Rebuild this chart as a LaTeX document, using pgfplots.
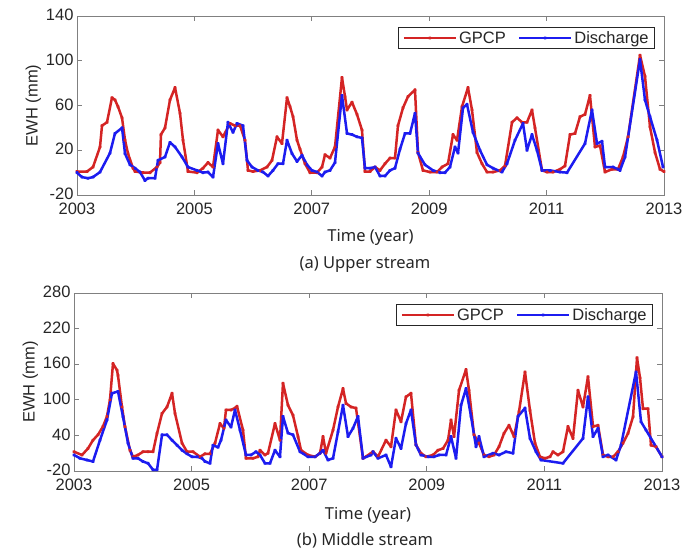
\documentclass[border=0pt]{standalone}
\usepackage{fontspec}
\setmainfont{Liberation Sans}
\newfontfamily\capfont{Noto Sans}
\usepackage{pgfplots}
\pgfplotsset{compat=1.18}
\definecolor{gpcpred}{RGB}{212,36,36}
\definecolor{disblue}{RGB}{28,28,240}
\definecolor{axgray}{RGB}{128,128,128}
\definecolor{txtgray}{RGB}{38,38,38}

\pgfplotsset{
  ewh/.style={
    scale only axis,
    xmin=2003, xmax=2013,
    xtick={2003,2005,2007,2009,2011,2013},
    xticklabels={2003,2005,2007,2009,2011,2013},
    tick align=inside,
    major tick length=5pt,
    axis line style={axgray, line width=0.9pt},
    tick style={axgray, line width=0.9pt},
    every tick label/.append style={font=\fontsize{16.5}{17}\selectfont, text=txtgray},
    xticklabel style={yshift=-8pt, inner ysep=0pt},
    yticklabel style={inner ysep=0pt, yshift=1pt},
    ylabel={EWH (mm)},
    ylabel style={font=\fontsize{16.5}{17}\selectfont, text=txtgray, yshift=-2pt},
    xlabel={Time (year)},
    xlabel style={font=\capfont\fontsize{16.5}{17}\selectfont, text=txtgray,
      at={(axis description cs:0.5,0)}, anchor=center, yshift=-42pt},
    legend columns=2,
    legend cell align=left,
    legend style={at={(axis description cs:1,1)}, anchor=north east,
      xshift=-9pt, yshift=-11pt, draw=txtgray, line width=0.7pt,
      font=\fontsize{16.5}{17}\selectfont, text=txtgray,
      inner xsep=4pt, inner ysep=2pt,
      /tikz/every even column/.append style={column sep=10pt}},
    legend image code/.code={
      \draw[mark repeat=2, mark phase=2, #1]
        plot coordinates {(0pt,0pt) (26pt,0pt) (52pt,0pt)};},
    every axis plot/.append style={line width=2.5pt, line join=round, mark=*, mark size=0.5pt},
  }
}

\begin{document}
\begin{tikzpicture}
\useasboundingbox (0,0) rectangle (687pt,558pt);

% (a) upper stream
\begin{axis}[ewh,
  at={(77pt,363pt)}, anchor=south west,
  width=587pt, height=179pt,
  ymin=-20, ymax=140,
  ytick={-20,20,60,100,140},
  yticklabels={-20,20,60,100,140},
]
\addplot[gpcpred, mark options={gpcpred}] coordinates {
(2003.000,1) (2003.170,1) (2003.273,5) (2003.392,23) (2003.426,42) (2003.511,45)
(2003.596,67) (2003.647,65) (2003.698,59) (2003.767,49) (2003.818,29) (2003.869,17)
(2003.954,4) (2003.990,1) (2004.124,0) (2004.244,0) (2004.363,5) (2004.414,9)
(2004.430,34) (2004.499,40) (2004.584,65) (2004.670,76) (2004.755,53) (2004.806,29)
(2004.891,1) (2005.044,0) (2005.146,4) (2005.232,9) (2005.317,5) (2005.402,38)
(2005.487,32) (2005.606,44) (2005.692,42) (2005.777,42) (2005.862,29) (2005.913,2)
(2005.998,1) (2006.118,2) (2006.237,5) (2006.322,11) (2006.407,32) (2006.492,26)
(2006.578,67) (2006.629,59) (2006.680,50) (2006.748,29) (2006.799,21) (2006.884,8)
(2006.969,0) (2007.089,0) (2007.174,5) (2007.225,16) (2007.310,13) (2007.395,23)
(2007.514,85) (2007.566,68) (2007.600,56) (2007.685,63) (2007.770,52) (2007.855,38)
(2007.906,1) (2007.991,1) (2008.077,5) (2008.162,2) (2008.247,8) (2008.332,13)
(2008.417,13) (2008.468,42) (2008.554,58) (2008.639,68) (2008.758,74) (2008.809,18)
(2008.894,2) (2009.014,0.5) (2009.133,0.5) (2009.218,5) (2009.320,8) (2009.405,34)
(2009.474,29) (2009.559,59) (2009.661,76) (2009.729,56) (2009.814,18) (2009.899,8)
(2009.985,0.5) (2010.087,0.5) (2010.206,2) (2010.291,6) (2010.411,45) (2010.496,49)
(2010.581,45) (2010.666,45) (2010.751,56) (2010.802,40) (2010.922,2) (2011.007,0.5)
(2011.109,0.5) (2011.228,3) (2011.313,6) (2011.399,34) (2011.484,35) (2011.569,50)
(2011.654,52) (2011.739,69) (2011.824,23) (2011.910,24) (2011.995,0.5) (2012.114,3)
(2012.216,3) (2012.302,14) (2012.387,32) (2012.591,105) (2012.676,86) (2012.761,41)
(2012.847,18) (2012.932,3) (2013.000,1)
};
\addplot[disblue, mark options={disblue}] coordinates {
(2003.000,0) (2003.085,-4) (2003.187,-5) (2003.273,-4) (2003.392,0.5) (2003.562,17.5)
(2003.647,35) (2003.767,40) (2003.818,17) (2003.903,7) (2003.988,4) (2004.073,0.5)
(2004.158,-7) (2004.210,-5) (2004.329,-5) (2004.380,11) (2004.499,14) (2004.584,27)
(2004.670,23) (2004.789,14) (2004.891,5) (2005.044,2) (2005.146,0) (2005.232,0.5)
(2005.317,-4) (2005.402,26) (2005.487,8) (2005.572,45) (2005.658,36) (2005.726,44)
(2005.828,42) (2005.896,11) (2005.981,5) (2006.083,2) (2006.169,0.5) (2006.254,-3)
(2006.339,2) (2006.424,8) (2006.509,8) (2006.578,29) (2006.663,17) (2006.748,10)
(2006.833,15.5) (2006.918,7) (2007.003,2) (2007.089,0.5) (2007.174,-3) (2007.225,0.5)
(2007.310,2) (2007.395,9) (2007.514,69) (2007.600,35) (2007.685,34) (2007.770,32)
(2007.855,31) (2007.906,4) (2007.991,4) (2008.077,5) (2008.162,-3) (2008.247,-3)
(2008.332,2) (2008.417,4) (2008.503,21) (2008.588,35) (2008.673,35) (2008.758,53)
(2008.809,17.5) (2008.928,7) (2009.065,2) (2009.184,0) (2009.269,0) (2009.354,5)
(2009.440,23) (2009.491,17.5) (2009.576,58) (2009.644,61) (2009.746,36) (2009.865,20)
(2009.985,7) (2010.087,4) (2010.240,0.5) (2010.325,8) (2010.462,29) (2010.598,44)
(2010.666,20) (2010.751,34) (2010.836,20) (2010.922,2) (2011.058,2) (2011.228,0.5)
(2011.348,0) (2011.654,26) (2011.773,56) (2011.859,26) (2011.944,28) (2011.995,5)
(2012.131,5) (2012.216,3) (2012.250,2) (2012.336,14) (2012.591,101) (2012.676,65)
(2012.761,50) (2012.881,29) (2012.983,5)
};
\legend{GPCP, Discharge}
\end{axis}

% (b) middle stream
\begin{axis}[ewh,
  at={(74pt,87pt)}, anchor=south west,
  width=588pt, height=178pt,
  ymin=-20, ymax=280,
  ytick={-20,40,100,160,220,280},
  yticklabels={-20,40,100,160,220,280},
  xlabel style={yshift=-2pt},
]
\addplot[gpcpred, mark options={gpcpred}] coordinates {
(2003.000,12.5) (2003.136,7) (2003.238,18) (2003.323,32) (2003.408,41) (2003.493,55)
(2003.561,72) (2003.612,100) (2003.663,161) (2003.731,150) (2003.748,141) (2003.816,88)
(2003.867,55) (2003.952,15) (2004.003,4) (2004.088,7) (2004.173,12.5) (2004.259,12.5)
(2004.344,12.5) (2004.412,43.5) (2004.497,77) (2004.582,88) (2004.667,111) (2004.718,77)
(2004.837,27) (2004.922,12.5) (2005.024,12.5) (2005.143,4) (2005.228,9) (2005.313,9)
(2005.398,27) (2005.483,60) (2005.550,52) (2005.585,83) (2005.670,83) (2005.738,86)
(2005.772,89) (2005.874,49) (2005.925,1.4) (2006.044,1.4) (2006.129,4) (2006.163,15)
(2006.248,7) (2006.299,10) (2006.418,60) (2006.503,32) (2006.554,128) (2006.639,91)
(2006.724,74) (2006.810,38) (2006.861,15) (2006.980,7) (2007.099,4) (2007.184,10)
(2007.235,38) (2007.286,10) (2007.405,49) (2007.490,88) (2007.575,119) (2007.626,94)
(2007.711,88) (2007.796,86) (2007.915,1.4) (2008.051,10) (2008.085,12.5) (2008.170,4)
(2008.306,32) (2008.391,21) (2008.476,83) (2008.561,63) (2008.646,105) (2008.731,111)
(2008.816,24) (2008.901,10) (2008.986,4) (2009.105,7) (2009.190,15) (2009.276,18)
(2009.361,32) (2009.412,66) (2009.463,38) (2009.548,116) (2009.667,151) (2009.718,116)
(2009.803,41) (2009.888,27) (2009.973,7) (2010.058,4) (2010.143,7) (2010.228,21)
(2010.313,43.5) (2010.398,57) (2010.483,38) (2010.568,80) (2010.670,147) (2010.755,82)
(2010.840,27) (2010.925,4) (2011.010,1.4) (2011.095,4) (2011.146,12.5) (2011.231,7)
(2011.316,12.5) (2011.401,55) (2011.486,35) (2011.571,116) (2011.656,88) (2011.741,139)
(2011.827,55) (2011.912,57) (2011.997,7) (2012.082,4) (2012.167,4) (2012.252,12.5)
(2012.337,27) (2012.422,43.5) (2012.507,71.5) (2012.575,171) (2012.626,137) (2012.677,85)
(2012.762,85) (2012.813,23.5) (2012.898,21) (2013.000,4)
};
\addplot[disblue, mark options={disblue}] coordinates {
(2003.000,7) (2003.102,1.4) (2003.221,-1.5) (2003.323,-4) (2003.442,32) (2003.561,66)
(2003.646,111) (2003.748,114) (2003.833,71.5) (2003.918,27) (2004.003,1.4) (2004.088,1.4)
(2004.173,-4) (2004.259,-7) (2004.344,-18) (2004.412,-18) (2004.497,41) (2004.582,41)
(2004.667,32) (2004.752,23.5) (2004.837,15) (2004.922,9) (2005.007,4) (2005.092,4)
(2005.177,1.4) (2005.228,-4) (2005.313,-7) (2005.364,23.5) (2005.449,20) (2005.500,32)
(2005.585,66) (2005.670,54) (2005.738,83) (2005.823,49) (2005.925,7) (2006.010,7)
(2006.095,12.5) (2006.163,7) (2006.248,-7) (2006.333,-7) (2006.418,15) (2006.503,4)
(2006.554,72) (2006.639,44) (2006.724,41) (2006.844,12.5) (2006.980,4) (2007.099,4)
(2007.184,10) (2007.235,15) (2007.320,-1.5) (2007.405,1.4) (2007.490,46) (2007.575,91)
(2007.660,38) (2007.745,52) (2007.830,72) (2007.915,1.4) (2008.051,7) (2008.085,12.5)
(2008.170,1.4) (2008.306,7) (2008.391,-13) (2008.476,35) (2008.561,18) (2008.646,60)
(2008.731,83) (2008.816,24) (2008.901,7) (2009.020,4) (2009.122,4) (2009.207,7)
(2009.327,7) (2009.412,38) (2009.497,1.4) (2009.582,91) (2009.667,119) (2009.752,72)
(2009.837,21) (2009.888,38) (2009.973,4) (2010.126,10) (2010.228,7) (2010.347,12.5)
(2010.466,10) (2010.551,72) (2010.670,86) (2010.755,35) (2010.857,12.5) (2010.942,-1.5)
(2011.316,-7) (2011.656,35) (2011.741,105) (2011.827,38) (2011.912,52) (2011.997,4)
(2012.082,7) (2012.218,-1.5) (2012.303,23.5) (2012.558,147) (2012.643,63) (2012.728,49)
(2013.000,4)
};
\legend{GPCP, Discharge}
\end{axis}

\node[font=\capfont\fontsize{16.5}{17}\selectfont, text=txtgray] at (365pt,293pt) {(a) Upper stream};
\node[font=\capfont\fontsize{16.5}{17}\selectfont, text=txtgray] at (365pt,17pt) {(b) Middle stream};
\end{tikzpicture}
\end{document}
